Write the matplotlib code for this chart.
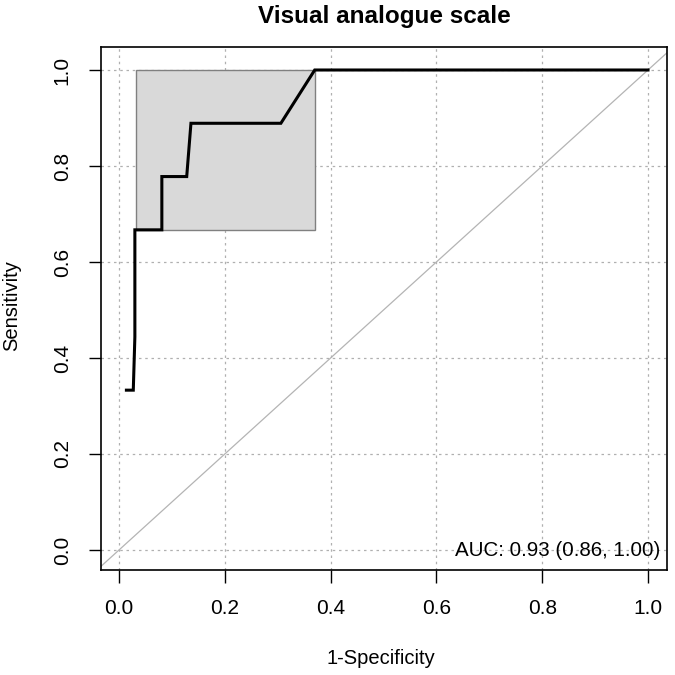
import matplotlib
matplotlib.use("Agg")
import matplotlib.pyplot as plt
from matplotlib.patches import Rectangle

# Data
fpr = [0.014, 0.027, 0.030, 0.030, 0.081, 0.081, 0.128, 0.136, 0.306, 0.370, 1.0]
sens = [0.333, 0.333, 0.444, 0.667, 0.667, 0.778, 0.778, 0.889, 0.889, 1.0, 1.0]
ci_fpr = [0.032, 0.370]
ci_sens = [0.667, 1.0]
ticks = [0.0, 0.2, 0.4, 0.6, 0.8, 1.0]
tick_labels = ["0.0", "0.2", "0.4", "0.6", "0.8", "1.0"]
title = "Visual analogue scale"
auc_text = "AUC: 0.93 (0.86, 1.00)"

plt.rcParams['font.family'] = ['Liberation Sans', 'DejaVu Sans']

fig = plt.figure(figsize=(6.75, 6.75), dpi=100)
L, R, T, B = 101, 667, 47, 570
ax = fig.add_axes([L/675, 1-B/675, (R-L)/675, (B-T)/675])

xlim = ((L-119)/529, (R-119)/529)
ylim = ((550-B)/480, (550-T)/480)
ax.set_xlim(*xlim)
ax.set_ylim(*ylim)

# grid
for t in ticks:
    ax.axvline(t, color='#b0b0b0', lw=0.9, ls=(0, (2, 3)), zorder=0)
    ax.axhline(t, color='#b0b0b0', lw=0.9, ls=(0, (2, 3)), zorder=0)

# CI rectangle
ax.add_patch(Rectangle((ci_fpr[0], ci_sens[0]), ci_fpr[1]-ci_fpr[0], ci_sens[1]-ci_sens[0],
                       facecolor='#d9d9d9', edgecolor='#808080', lw=1.0, zorder=1))

# diagonal
ax.plot([-0.1, 1.1], [-0.1, 1.1], color='#b4b4b4', lw=0.9, zorder=2)

# ROC
ax.plot(fpr, sens, color='black', lw=2.2, zorder=3, solid_joinstyle='miter')

ax.text(1.023, 0.0, auc_text, ha='right', va='center', fontsize=14.8, zorder=4)

ax.set_xticks(ticks)
ax.set_xticklabels(tick_labels)
ax.set_yticks(ticks)
ax.set_yticklabels(tick_labels, rotation=90, va='center')
ax.tick_params(direction='out', length=9, width=1, labelsize=15, pad=12)
for s in ax.spines.values():
    s.set_linewidth(1.2)

ax.set_xlabel("1-Specificity", fontsize=14.5)
ax.xaxis.set_label_coords(((329+432)/2 - L)/(R-L), (B-659)/(B-T))
ax.xaxis.label.set_va('center')
ax.set_ylabel("Sensitivity", fontsize=14.5)
ax.yaxis.set_label_coords((12 - L)/(R-L), 0.5 * 1 + ((B-T)/2 - (B-311))/(B-T))
ax.yaxis.label.set_va('center')

fig.text((L+R)/2/675, 1-16/675, title, ha='center', va='center', fontsize=17.5, fontweight='bold')

fig.savefig("out.png", dpi=100)
